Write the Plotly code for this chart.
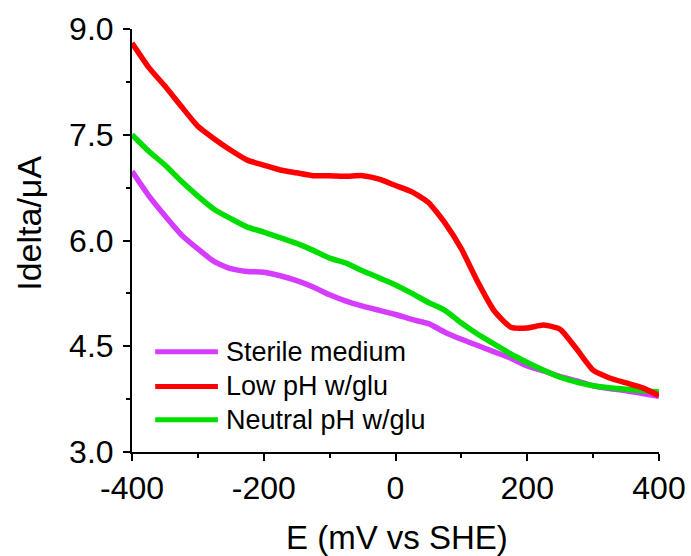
import plotly.graph_objects as go

# Potential sweep (mV vs SHE)
E = [-400, -375, -350, -325, -300, -275, -250, -225, -200, -175, -150, -125,
     -100, -75, -50, -25, 0, 25, 50, 75, 100, 125, 150, 175, 200, 225, 250,
     275, 300, 325, 350, 375, 400]

# Idelta (uA) for each condition
sterile = [6.98, 6.64, 6.35, 6.08, 5.88, 5.70, 5.60, 5.56, 5.55, 5.50, 5.43,
           5.34, 5.23, 5.14, 5.07, 5.01, 4.95, 4.88, 4.82, 4.70, 4.60, 4.51,
           4.42, 4.33, 4.22, 4.15, 4.07, 4.01, 3.94, 3.90, 3.87, 3.83, 3.79]
low_ph = [8.80, 8.46, 8.19, 7.90, 7.62, 7.44, 7.28, 7.14, 7.07, 7.00, 6.96,
          6.92, 6.92, 6.91, 6.92, 6.87, 6.78, 6.69, 6.54, 6.25, 5.88, 5.41,
          5.00, 4.77, 4.76, 4.80, 4.74, 4.46, 4.16, 4.05, 3.98, 3.91, 3.80]
neutral_ph = [7.50, 7.27, 7.07, 6.84, 6.63, 6.44, 6.31, 6.19, 6.12, 6.04,
              5.96, 5.86, 5.75, 5.68, 5.57, 5.47, 5.37, 5.25, 5.12, 5.01,
              4.83, 4.67, 4.53, 4.39, 4.27, 4.16, 4.06, 3.99, 3.94, 3.91,
              3.89, 3.87, 3.85]

names = ["Sterile medium", "Low pH w/glu", "Neutral pH w/glu"]
series = [sterile, low_ph, neutral_ph]
colors = ["#D63CFF", "#FF0000", "#00DD00"]

x_ticks = [-400, -200, 0, 200, 400]
y_ticks = [3.0, 4.5, 6.0, 7.5, 9.0]

FONT = "Arial, Liberation Sans, sans-serif"

fig = go.Figure()
# Draw order: purple first, then green, red on top
for idx in [0, 2, 1]:
    fig.add_trace(go.Scatter(
        x=E, y=series[idx], mode="lines", name=names[idx],
        line=dict(color=colors[idx], width=5.5, shape="spline", smoothing=0.5),
        showlegend=False,
    ))

# Legend drawn as line samples with labels
leg_y = [0.237, 0.155, 0.076]
for name, col, ly in zip(names, colors, leg_y):
    fig.add_shape(type="line", xref="paper", yref="paper",
                  x0=0.044, x1=0.163, y0=ly, y1=ly,
                  line=dict(color=col, width=5))
    fig.add_annotation(text=name, xref="paper", yref="paper",
                       x=0.174, y=ly, xanchor="left", yanchor="middle",
                       showarrow=False,
                       font=dict(family=FONT, size=27, color="black"))

fig.add_annotation(text="Idelta/\u03bcA", xref="paper", yref="paper",
                   x=-0.197, y=0.54, textangle=-90, showarrow=False,
                   xanchor="center", yanchor="middle",
                   font=dict(family=FONT, size=34, color="black"))
fig.add_annotation(text="E (mV vs SHE)", xref="paper", yref="paper",
                   x=0.503, y=-0.201, showarrow=False,
                   xanchor="center", yanchor="middle",
                   font=dict(family=FONT, size=33, color="black"))

axis_common = dict(
    showgrid=False, zeroline=False, showline=True, linecolor="black",
    linewidth=2, ticks="outside", ticklen=7, tickwidth=2, tickcolor="black",
    tickfont=dict(family=FONT, size=32, color="black"),
    automargin=False,
)

fig.update_xaxes(range=[-400, 400], tickvals=x_ticks,
                 ticktext=[str(v) for v in x_ticks],
                 minor=dict(tickvals=[-300, -100, 100, 300], ticks="outside",
                            ticklen=4, tickwidth=2, tickcolor="black"),
                 **axis_common)
fig.update_yaxes(range=[3, 9], tickvals=y_ticks,
                 ticktext=[f"{v:.1f}" for v in y_ticks],
                 minor=dict(tickvals=[3.75, 5.25, 6.75, 8.25], ticks="outside",
                            ticklen=4, tickwidth=2, tickcolor="black"),
                 ticklabelstandoff=3,
                 **axis_common)

fig.update_layout(
    width=691, height=556,
    margin=dict(l=132, r=32, t=29, b=104, autoexpand=False),
    plot_bgcolor="white", paper_bgcolor="white",
    font=dict(family=FONT, color="black"),
)

fig.write_html("out.html")
